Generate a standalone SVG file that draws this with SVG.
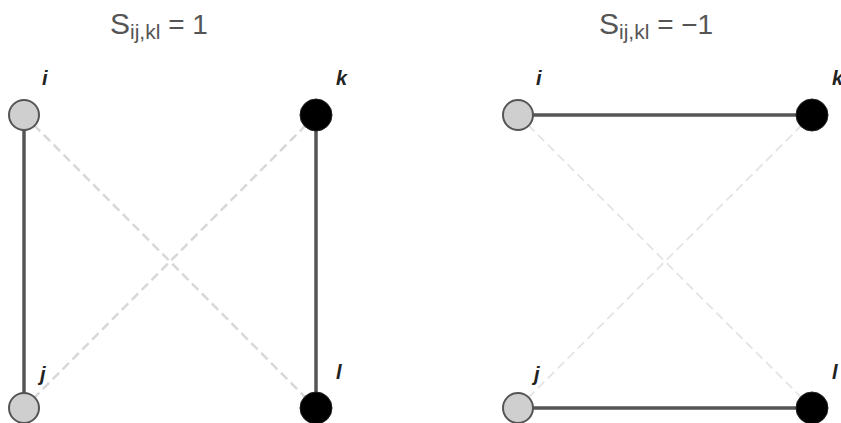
<svg xmlns="http://www.w3.org/2000/svg" width="841" height="423" viewBox="0 0 841 423">
<style>
.title{font-family:"Liberation Sans",Arial,sans-serif;font-size:28px;fill:#555}
.big{font-size:30px}
.sub{font-size:21px}
.lbl{font-family:"Liberation Sans",Arial,sans-serif;font-size:20px;font-style:italic;font-weight:bold;fill:#222}
.solid{stroke:#555;stroke-width:3.5;fill:none}
.dash{stroke:#d8d8d8;stroke-width:2.5;stroke-dasharray:9 5;fill:none}
.dash2{stroke:#e4e4e4;stroke-width:1.8;stroke-dasharray:9 5;fill:none}
.gray{fill:#cfcfcf;stroke:#555;stroke-width:2}
.black{fill:#000;stroke:#222;stroke-width:1}
</style>
<rect width="841" height="423" fill="#fff"/>
<g id="titles">
<text class="title" x="110" y="34"><tspan class="big">S</tspan><tspan class="sub" dy="5">ij,kl</tspan><tspan dy="-5"> = 1</tspan></text>
<text class="title" x="599" y="34"><tspan class="big">S</tspan><tspan class="sub" dy="5">ij,kl</tspan><tspan dy="-5"> = −1</tspan></text>
</g>
<g id="connectors">
<line class="dash" x1="24" y1="115" x2="316" y2="408"/>
<line class="dash" x1="316" y1="115" x2="24" y2="408"/>
<line class="solid" x1="24" y1="115" x2="24" y2="408"/>
<line class="solid" x1="316" y1="115" x2="316" y2="408"/>
<line class="dash2" x1="518" y1="115" x2="812" y2="408"/>
<line class="dash2" x1="812" y1="115" x2="518" y2="408"/>
<line class="solid" x1="518" y1="115" x2="812" y2="115"/>
<line class="solid" x1="518" y1="408" x2="812" y2="408"/>
</g>
<g id="L-i"><circle class="gray" cx="24" cy="115" r="15"/><text class="lbl" x="42" y="85">i</text></g>
<g id="L-k"><circle class="black" cx="316" cy="115" r="16"/><text class="lbl" x="336" y="85">k</text></g>
<g id="L-j"><circle class="gray" cx="24" cy="408" r="15"/><text class="lbl" x="40" y="381">j</text></g>
<g id="L-l"><circle class="black" cx="316" cy="408" r="16"/><text class="lbl" x="336" y="379">l</text></g>
<g id="R-i"><circle class="gray" cx="518" cy="115" r="15"/><text class="lbl" x="536" y="85">i</text></g>
<g id="R-k"><circle class="black" cx="812" cy="115" r="16"/><text class="lbl" x="832" y="85">k</text></g>
<g id="R-j"><circle class="gray" cx="518" cy="408" r="15"/><text class="lbl" x="534" y="381">j</text></g>
<g id="R-l"><circle class="black" cx="812" cy="408" r="16"/><text class="lbl" x="832" y="379">l</text></g>
</svg>
